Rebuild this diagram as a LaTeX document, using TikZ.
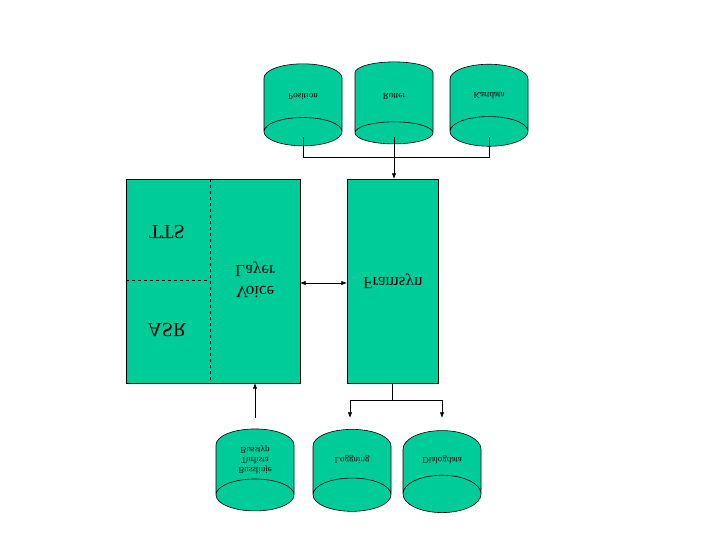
\documentclass[tikz,border=0pt]{standalone}
\usepackage{fontspec}
\setmainfont{Liberation Serif}
\usetikzlibrary{arrows.meta,shapes.geometric}
\definecolor{dbgreen}{RGB}{0,204,153}

\begin{document}
\begin{tikzpicture}[x=1pt,y=-1pt,line width=0.6pt,>=Latex,
    db/.style = {cylinder, draw, fill=dbgreen,
        yscale=-1, shape border rotate=90,
        minimum width=78pt, minimum height=82pt, aspect=0.9, align=center,
        inner sep=1pt, font=\fontsize{9}{10}\selectfont},
    flip/.style = {yscale=-1},
    blk/.style = {draw, fill=dbgreen, anchor=north west}]
    \useasboundingbox (0,0) rectangle (720,540);

    \node[db] (pos) at (303, 96) {Position};
    \node[db] (rut) at (394, 96) {Rutter};
    \node[db] (kar) at (489, 96) {Kartdata};

    \node[blk, minimum width=91pt, minimum height=204pt] (fra) at (347,179) {};
    \node[flip, font=\fontsize{17}{18}\selectfont] at (fra.center) {Framsyn};
    \node[blk, minimum width=174pt, minimum height=204pt] (voi) at (126,179) {};
    \draw[dashed] (210,179) -- (210,383) (126,280) -- (210,280);
    \node[flip, font=\fontsize{20}{22}\selectfont] (tts) at (167,232) {TTS};
    \node[flip, font=\fontsize{20}{22}\selectfont] (asr) at (167,330) {ASR};
    \node[flip, align=center, font=\fontsize{17}{21}\selectfont] (vl) at (255,280) {Voice\\Layer};

    \node[db] (bus) at (255,460) {Busslinje\\Turlista\\Busstyp};
    \node[db] (log) at (352,460) {Loggning};
    \node[db] (dia) at (442,460) {Dialogdata};

    \coordinate (top) at (394,157);
    \draw (303,137) -- (303,157) -- (489,157) -- (489,137);
    \draw (394,137) -- (top);
    \draw[->] (top) -- (394,179);
    \draw[<->] (300,283) -- (347,283);
    \coordinate (bot) at (392,400);
    \draw (392,383) -- (bot);
    \draw[->] (350,400) -- (350,418);
    \draw[->] (442,400) -- (442,418);
    \draw (350,400) -- (442,400);
    \draw[->] (255,418) -- (255,383);
\end{tikzpicture}
\end{document}
